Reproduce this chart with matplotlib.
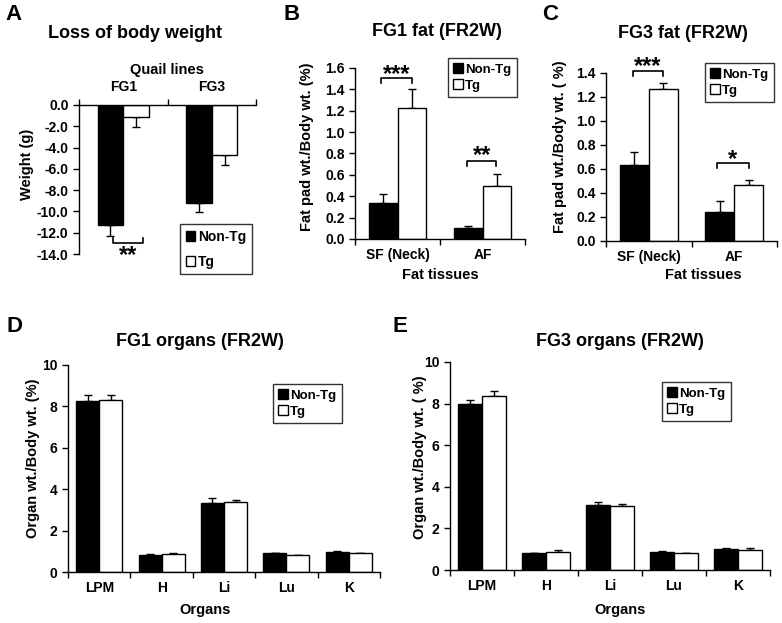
import numpy as np
import matplotlib
matplotlib.use("Agg")
import matplotlib.pyplot as plt
from matplotlib.patches import Patch

plt.rcParams['font.family'] = ['Liberation Sans', 'DejaVu Sans']
plt.rcParams['font.weight'] = 'bold'

W, H = 782, 623

# A - loss of body weight
lines_a = ["FG1", "FG3"]
nontg_a = [-11.3, -9.2]
nontg_a_err = [1.0, 0.9]
tg_a = [-1.1, -4.7]
tg_a_err = [1.0, 0.9]

# B - FG1 fat
tissues = ["SF (Neck)", "AF"]
nontg_b = [0.34, 0.10]
nontg_b_err = [0.08, 0.025]
tg_b = [1.23, 0.50]
tg_b_err = [0.17, 0.11]

# C - FG3 fat
nontg_c = [0.63, 0.24]
nontg_c_err = [0.11, 0.09]
tg_c = [1.27, 0.47]
tg_c_err = [0.05, 0.04]

# D / E - organs
organs = ["LPM", "H", "Li", "Lu", "K"]
nontg_d = [8.25, 0.82, 3.35, 0.90, 0.97]
nontg_d_err = [0.30, 0.05, 0.23, 0.04, 0.05]
tg_d = [8.33, 0.86, 3.40, 0.80, 0.90]
tg_d_err = [0.22, 0.04, 0.08, 0.04, 0.03]

nontg_e = [7.98, 0.80, 3.12, 0.87, 1.00]
nontg_e_err = [0.17, 0.03, 0.13, 0.03, 0.05]
tg_e = [8.38, 0.85, 3.06, 0.80, 0.97]
tg_e_err = [0.22, 0.12, 0.09, 0.03, 0.11]

fig = plt.figure(figsize=(W / 100, H / 100), dpi=100)


def px_axes(l, r, t, b):
    return fig.add_axes([l / W, 1 - b / H, (r - l) / W, (b - t) / H])


def ftext(x, y, s, size, rot=0):
    fig.text(x / W, 1 - y / H, s, ha='center', va='center', fontsize=size,
             fontweight='bold', rotation=rot)


def bars(ax, cats, v1, e1, v2, e2, off, wid):
    x = np.arange(len(cats))
    ax.bar(x - off, v1, wid, color='black', edgecolor='black', lw=1, zorder=2)
    ax.bar(x + off, v2, wid, color='white', edgecolor='black', lw=1, zorder=2)
    for xs, v, e in [(x - off, v1, e1), (x + off, v2, e2)]:
        v = np.array(v)
        e = np.array(e)
        lo = np.where(v < 0, e, 0)
        hi = np.where(v < 0, 0, e)
        ax.errorbar(xs, v, yerr=[lo, hi], fmt='none', ecolor='black',
                    elinewidth=1, capsize=3, capthick=1, zorder=1)
    ax.set_xlim(-0.5, len(cats) - 0.5)
    ax.set_xticks(x)
    ax.set_xticklabels(cats)
    ax.set_xticks(np.arange(len(cats) + 1) - 0.5, minor=True)
    ax.tick_params(axis='x', which='major', length=0, labelsize=10, pad=6.5)
    ax.tick_params(axis='x', which='minor', length=4, width=1)
    ax.tick_params(axis='y', length=4, width=1, labelsize=10)
    for s in ['top', 'right']:
        ax.spines[s].set_visible(False)
    for s in ['left', 'bottom']:
        ax.spines[s].set_linewidth(1)


def legend(ax, x, y, spacing=0.3, size=9.5):
    handles = [Patch(facecolor='black', edgecolor='black'),
               Patch(facecolor='white', edgecolor='black')]
    lg = ax.legend(handles, ["Non-Tg", "Tg"], loc='upper left',
                   bbox_to_anchor=(x / W, 1 - y / H), bbox_transform=fig.transFigure,
                   borderaxespad=0, frameon=True, fancybox=False, fontsize=size,
                   handlelength=0.7, handleheight=0.7, handletextpad=0.2,
                   borderpad=0.4, labelspacing=spacing)
    lg.get_frame().set_edgecolor('black')
    lg.get_frame().set_linewidth(1)


def bracket(ax, x0, x1, y, y_end, stars, ys, fs=17):
    ax.plot([x0, x0, x1, x1], [y_end, y, y, y_end], color='black', lw=1.2, clip_on=False)
    # ys is where the middle of the asterisks should sit
    ax.annotate(stars, xy=((x0 + x1) / 2, ys), xytext=(0, -0.45 * fs),
                textcoords='offset points', ha='center', va='baseline',
                fontsize=fs, annotation_clip=False)


# panel A
axA = px_axes(79, 256, 105, 254)
bars(axA, lines_a, nontg_a, nontg_a_err, tg_a, tg_a_err, 0.145, 0.29)
axA.set_ylim(-14, 0)
axA.set_yticks(np.arange(-14, 1, 2))
axA.set_yticklabels(["%.1f" % v for v in np.arange(-14, 1, 2)])
axA.spines['bottom'].set_visible(False)
axA.spines['top'].set_visible(True)
axA.spines['top'].set_linewidth(1)
axA.xaxis.tick_top()
axA.tick_params(axis='x', which='major', pad=8)
legend(axA, 180, 224, spacing=0.8, size=10)
bracket(axA, -0.12, 0.22, -12.97, -12.5, "**", -13.8)
ftext(167, 70, "Quail lines", 10.5)
ftext(27, 164, "Weight (g)", 10.5, 90)

# panel B
axB = px_axes(355, 525, 68, 239)
bars(axB, tissues, nontg_b, nontg_b_err, tg_b, tg_b_err, 0.17, 0.34)
axB.set_ylim(0, 1.6)
axB.set_yticks(np.arange(0, 1.61, 0.2))
axB.set_yticklabels(["%.1f" % v for v in np.arange(0, 1.61, 0.2)])
legend(axB, 448, 58)
bracket(axB, -0.19, 0.17, 1.506, 1.46, "***", 1.58)
bracket(axB, 0.82, 1.16, 0.73, 0.683, "**", 0.823)
ftext(440, 275, "Fat tissues", 10.5)
ftext(307, 147, "Fat pad wt./Body wt. (%)", 10.5, 90)

# panel C
axC = px_axes(606, 777, 73, 241)
bars(axC, tissues, nontg_c, nontg_c_err, tg_c, tg_c_err, 0.17, 0.34)
axC.set_ylim(0, 1.4)
axC.set_yticks(np.arange(0, 1.41, 0.2))
axC.set_yticklabels(["%.1f" % v for v in np.arange(0, 1.41, 0.2)])
legend(axC, 705, 63)
bracket(axC, -0.184, 0.167, 1.417, 1.375, "***", 1.49)
bracket(axC, 0.80, 1.17, 0.65, 0.608, "*", 0.717)
ftext(703, 275, "Fat tissues", 10.5)
ftext(560, 147, "Fat pad wt./Body wt. ( %)", 10.5, 90)

# panel D
axD = px_axes(68, 380, 365, 572)
bars(axD, organs, nontg_d, nontg_d_err, tg_d, tg_d_err, 0.185, 0.37)
axD.set_ylim(0, 10)
axD.set_yticks(np.arange(0, 11, 2))
legend(axD, 273, 384)
ftext(205, 610, "Organs", 10.5)
ftext(33, 458, "Organ wt./Body wt. (%)", 10.5, 90)

# panel E
axE = px_axes(450, 770, 362, 570)
bars(axE, organs, nontg_e, nontg_e_err, tg_e, tg_e_err, 0.185, 0.37)
axE.set_ylim(0, 10)
axE.set_yticks(np.arange(0, 11, 2))
legend(axE, 662, 382)
ftext(620, 610, "Organs", 10.5)
ftext(420, 457, "Organ wt./Body wt. ( %)", 10.5, 90)

# titles and panel letters
titles = [("Loss of body weight", 135, 33), ("FG1 fat (FR2W)", 437, 32),
          ("FG3 fat (FR2W)", 683, 33), ("FG1 organs (FR2W)", 200, 342),
          ("FG3 organs (FR2W)", 620, 342)]
for t, x, y in titles:
    ftext(x, y, t, 13)

letters = [("A", 14, 15), ("B", 292, 15), ("C", 550, 15), ("D", 15, 326), ("E", 400, 326)]
for t, x, y in letters:
    ftext(x, y, t, 16)

fig.savefig("out.png", dpi=100)
